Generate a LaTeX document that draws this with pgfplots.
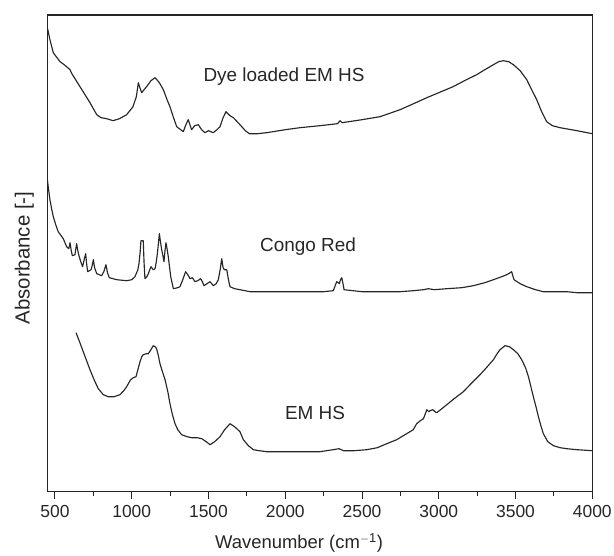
\documentclass[border=0pt]{standalone}
\usepackage{pgfplots}
\pgfplotsset{compat=1.18}
\usepackage{fontspec}
\setmainfont{Liberation Sans}

% FTIR absorbance spectra (arbitrary offset units)
\newcommand{\dyeHS}{
(452,463) (467,452) (489,439) (533,430) (560,427) (598,422) (610,418) (663,405) (728,389)
(772,377) (800,374) (837,373) (878,371) (920,373) (967,377) (1008,385) (1030,395) (1043,409)
(1053,404) (1065,399) (1080,402) (1097,405) (1125,411) (1152,414) (1180,409) (1206,402)
(1230,392) (1249,385) (1270,375) (1293,365) (1336,360) (1350,366) (1368,372) (1390,362)
(1410,366) (1434,367) (1455,362) (1477,359) (1500,361) (1531,359) (1555,362) (1575,365)
(1595,374) (1614,380) (1640,376) (1662,374) (1705,367) (1740,361) (1766,358) (1820,358)
(1879,359) (2000,362) (2096,364) (2226,366) (2340,368) (2357,371) (2370,369) (2500,372)
(2617,375) (2748,382) (2850,389) (2922,394) (3000,399) (3093,405) (3180,412) (3247,417)
(3300,422) (3356,427) (3390,430) (3421,431) (3455,430) (3486,427) (3530,421) (3573,412)
(3605,402) (3638,392) (3670,380) (3703,370) (3740,366) (3790,364) (3900,361) (4000,358)
}
\newcommand{\congo}{
(450,313) (456,305) (467,292) (478,283) (489,275) (505,267) (521,260) (540,256) (554,253)
(576,245) (590,243) (598,249) (605,242) (613,236) (630,237) (641,248) (650,240) (658,235)
(668,230) (680,225) (690,232) (700,238) (706,228) (713,220) (735,222) (742,226) (750,232)
(758,224) (772,218) (804,216) (818,220) (832,227) (842,219) (854,214) (902,212) (967,211)
(1000,212) (1021,215) (1040,222) (1047,228) (1055,240) (1060,251) (1075,251) (1080,230)
(1086,213) (1098,215) (1108,218) (1125,225) (1140,222) (1152,223) (1160,230) (1167,238)
(1180,258) (1187,250) (1195,242) (1203,236) (1210,230) (1216,240) (1223,249) (1230,243)
(1238,235) (1246,225) (1254,215) (1271,203) (1300,204) (1314,205) (1330,211) (1351,220)
(1365,217) (1380,213) (1395,214) (1412,210) (1430,211) (1449,213) (1460,210) (1471,206)
(1490,208) (1510,210) (1531,206) (1550,208) (1564,212) (1576,222) (1586,233) (1595,224)
(1603,222) (1619,222) (1630,212) (1640,205) (1670,203) (1705,202) (1770,200) (1900,200)
(2096,200) (2250,200) (2313,201) (2325,206) (2335,210) (2345,209) (2352,208) (2360,212)
(2368,214) (2376,208) (2383,202) (2500,200) (2617,200) (2750,200) (2834,201) (2900,202)
(2932,203) (2970,202) (3052,203) (3150,204) (3225,206) (3300,209) (3356,212) (3410,215)
(3443,217) (3465,219) (3475,220) (3482,216) (3490,212) (3530,208) (3573,205) (3630,202)
(3681,200) (3760,200) (3834,200) (3900,199) (4000,199)
}
\newcommand{\emHS}{
(637,159) (660,150) (684,140) (706,131) (728,122) (755,112) (782,103) (815,97) (847,95)
(885,95) (923,97) (948,101) (967,105) (985,110) (993,112) (1010,114) (1028,115) (1040,122)
(1054,130) (1065,135) (1075,137) (1095,138) (1108,138) (1125,142) (1140,146) (1152,145)
(1162,143) (1175,135) (1184,128) (1200,120) (1217,112) (1235,100) (1249,88) (1265,77)
(1282,68) (1300,62) (1325,57) (1360,55) (1391,54) (1425,54) (1456,53) (1485,50) (1510,47)
(1540,50) (1575,55) (1605,62) (1640,68) (1670,65) (1705,60) (1727,52) (1760,46) (1792,42)
(1830,41) (1879,40) (2000,40) (2096,40) (2226,40) (2313,42) (2350,43) (2380,41) (2450,41)
(2531,42) (2600,44) (2661,48) (2726,52) (2780,57) (2834,62) (2856,68) (2880,71) (2900,73)
(2915,79) (2922,82) (2935,80) (2943,81) (2961,82) (2975,80) (2987,79) (3020,83) (3052,87)
(3100,93) (3160,100) (3210,108) (3269,117) (3310,124) (3356,132) (3380,138) (3399,142)
(3432,146) (3460,145) (3486,142) (3515,138) (3540,132) (3565,124) (3584,115) (3600,105)
(3616,95) (3633,85) (3649,75) (3665,66) (3681,58) (3710,50) (3747,46) (3790,44) (3834,43)
(3900,42) (4000,41)
}

\begin{document}
\begin{tikzpicture}
\useasboundingbox (0,0) rectangle (614bp,556bp);
\begin{axis}[
  at={(47.3bp,64.3bp)}, anchor=south west,
  scale only axis, width=545bp, height=476.7bp,
  xmin=450, xmax=4000, ymin=0, ymax=476.7,
  axis line style={line width=1.1pt, black!85},
  xtick={500,1000,...,4000}, minor x tick num=1,
  xtick pos=lower, ytick=\empty,
  tick align=outside,
  major tick length=7bp, minor tick length=4.5bp,
  tick style={line width=1pt, black!85},
  /pgf/number format/assume math mode=true,
  /pgf/number format/set thousands separator={},
  ticklabel style={font=\fontsize{17.5}{20}\selectfont, text=black!85},
  xticklabel style={yshift=-3bp},
  xlabel={Wavenumber (cm$^{\mathrm{-1}}$)},
  ylabel={Absorbance [-]},
  xlabel style={font=\fontsize{18.5}{22}\selectfont, text=black!85,
    at={(axis description cs:0.462,0)}, anchor=north, yshift=-38bp},
  ylabel style={font=\fontsize{20.5}{24}\selectfont, text=black!85,
    at={(axis description cs:0,0.49)}, anchor=south, yshift=10bp},
  every axis plot/.append style={line width=1.15pt, black!85, line join=round},
  clip=true,
]
\addplot[mark=none] coordinates {\dyeHS};
\addplot[mark=none] coordinates {\congo};
\addplot[mark=none] coordinates {\emHS};
\node[font=\fontsize{19}{22}\selectfont, text=black!85] at (axis cs:1992,415) {Dye loaded EM HS};
\node[font=\fontsize{19}{22}\selectfont, text=black!85] at (axis cs:2148,245) {Congo Red};
\node[font=\fontsize{19}{22}\selectfont, text=black!85] at (axis cs:2194,79) {EM HS};
\end{axis}
\end{tikzpicture}
\end{document}
